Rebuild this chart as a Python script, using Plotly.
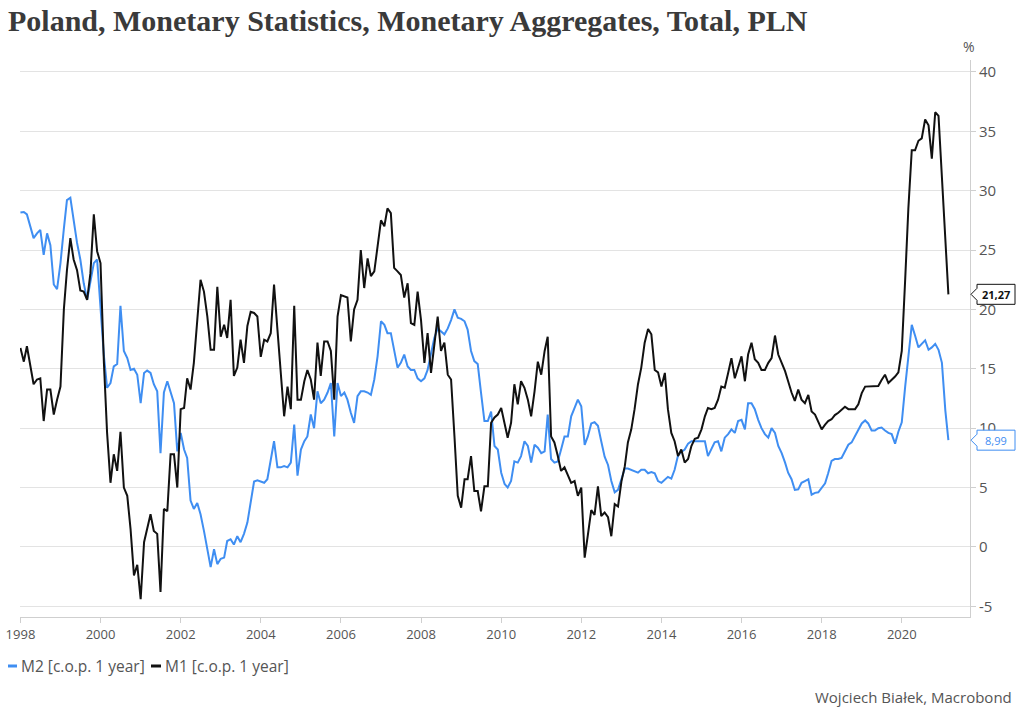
import pandas as pd
import plotly.graph_objects as go

# ---------------- data (monthly, Jan 1998 onward, % y/y) ----------------
m1_values = [
    16.75, 15.6, 16.9, 15.35, 13.7, 14.1, 14.2, 10.6, 13.25, 13.25, 11.15, 12.4,
    13.5, 20.0, 23.3, 26.0, 24.2, 23.3, 21.6, 21.5, 20.8, 23.05, 28.0, 24.9,
    23.9, 15.5, 9.6, 5.4, 7.8, 6.4, 9.7, 5.0,
    4.3, 1.5, -2.4, -1.5, -4.4, 0.4, 1.5, 2.75, 1.35, 1.1, -3.8, 3.2, 3.0, 7.8, 7.8, 5.0,
    11.6, 11.7, 14.2, 13.25, 15.5, 19.1, 22.5, 21.5, 19.4, 16.6, 16.6, 21.9, 17.7, 18.7,
    17.6, 20.8, 14.4, 15.1, 17.45, 15.5, 18.6, 19.8,
    19.7, 19.4, 16.0, 17.45, 17.3, 18.0, 22.1, 18.3, 14.4, 11.0, 13.5, 11.6, 20.3, 12.4,
    12.4, 13.95, 14.9, 14.1, 12.4, 17.2, 14.4, 17.3, 17.3, 16.5, 12.4, 19.4, 21.2, 21.1,
    21.0, 17.3, 20.0,
    20.8, 25.0, 21.8, 24.3, 22.8, 23.2, 25.3, 27.5, 27.0, 28.5, 28.1, 23.5, 23.2, 22.9,
    21.0, 22.2, 18.85, 18.7, 21.5, 19.1, 15.5, 18.0, 14.65, 17.2, 19.4, 16.5, 17.2, 14.5,
    14.1, 9.3, 4.3, 3.3, 5.7, 5.7,
    7.65, 4.7, 4.7, 3.0, 5.1, 5.1, 10.45, 10.9, 11.15, 11.7, 10.45, 9.2, 10.45, 13.7,
    12.0, 13.95, 13.4, 12.4, 11.0, 13.1, 15.6, 14.5, 16.5, 17.7, 9.3, 8.8, 7.65, 6.4,
    6.7, 6.0, 5.4, 5.55, 4.3, 5.0,
    -0.9,
    1.0, 3.1, 2.7, 5.1, 2.6, 2.9, 2.5, 0.9, 3.6, 3.4, 5.5, 6.8, 8.8, 9.9, 11.6, 13.7,
    15.1, 17.2, 18.35, 17.9, 14.9, 14.7, 13.5, 14.65, 11.6, 9.6, 8.9, 7.65, 8.2, 7.1,
    7.4, 8.5, 9.1, 9.2,
    9.9, 11.0, 11.7, 11.6, 11.7, 12.4, 13.5, 13.4, 14.65, 15.9, 14.2, 15.2, 16.05, 13.95,
    16.2, 17.2, 15.8, 15.5, 14.9, 14.9, 15.5, 15.9, 17.8, 16.2, 15.5, 14.8, 13.95, 13.0,
    12.3, 13.25, 12.4, 12.1, 12.8, 11.4, 11.15,
    10.55, 9.9, 10.3, 10.6, 10.75, 11.1, 11.3, 11.55, 11.8, 11.6, 11.6, 11.6, 12.0, 12.95,
    13.5, 13.5, 13.5, 13.5, 13.55, 14.05, 14.5, 13.8, 14.05, 14.35, 14.7,
    16.5, 22.5, 28.5, 33.4, 33.4, 34.2, 34.4, 36.0, 35.5, 32.7, 36.6, 36.3, 31.3, 26.3, 21.27,
]

m2_values = [
    28.15, 28.2, 28.0, 27.0, 26.0, 26.4, 26.7, 24.6, 26.4, 25.4, 22.1, 21.7,
    23.9, 26.8, 29.2, 29.4, 27.5, 25.6, 24.2, 22.2, 20.8, 22.2, 23.9, 24.2,
    19.7, 16.1, 13.4, 13.8, 15.2, 15.4, 20.3, 16.5,
    15.9, 14.9, 15.0, 14.5, 12.1, 14.65, 14.85, 14.65, 13.7, 13.1, 7.9, 13.0, 13.95, 13.1,
    12.1, 8.05, 9.6, 8.2, 7.5, 3.9, 3.2, 3.7, 2.75, 1.35, -0.2, -1.7, -0.2, -1.45, -1.0,
    -0.9, 0.5, 0.65, 0.2, 0.9, 0.4, 1.1, 2.05, 3.7,
    5.5, 5.6, 5.5, 5.4, 5.7, 7.4, 8.9, 6.7, 6.7, 6.8, 6.7, 7.1, 10.3, 6.0, 8.2, 8.9,
    9.3, 11.15, 10.0, 13.1, 12.1, 12.4, 13.0, 13.8, 9.3, 13.8, 12.7, 13.0, 12.4, 11.3, 10.45,
    12.7, 13.1, 13.1, 13.0, 12.8, 14.1, 16.05, 19.0, 18.7, 18.0, 18.0, 16.6, 15.1, 15.5,
    16.2, 15.2, 14.9, 14.9, 14.2, 13.95, 14.2, 14.9, 16.2, 17.6, 18.4, 18.15, 17.9, 18.4,
    19.1, 20.0, 19.3, 19.2, 19.0, 18.3,
    16.5, 15.65, 15.4, 13.0, 10.6, 10.6, 11.4, 8.5, 8.2, 6.25, 5.3, 5.0, 5.55, 7.2, 7.1,
    7.65, 8.9, 8.5, 7.1, 8.6, 8.35, 7.9, 8.05, 11.15, 7.4, 7.1, 7.2, 8.2, 9.3, 9.3, 11.0,
    11.7, 12.4, 11.85,
    8.6,
    9.3, 10.4, 10.5, 10.2, 8.9, 7.6, 6.9, 5.55, 4.6, 4.8, 5.7, 6.6, 6.6, 6.5, 6.4, 6.25,
    6.5, 6.5, 6.2, 6.3, 6.2, 5.55, 5.4, 5.7, 5.9, 5.75, 6.5, 7.7, 8.0, 8.2, 8.7, 8.9, 8.9, 8.9,
    8.9, 8.9, 7.65, 8.2, 8.8, 8.9, 8.05, 9.2, 9.5, 9.9, 9.6, 10.6, 10.7, 9.9, 12.1, 12.1,
    11.6, 10.7, 10.0, 9.5, 9.2, 10.0, 9.6, 8.5, 7.9, 7.1, 6.25, 5.7, 4.8, 4.85, 5.4, 5.55,
    5.7, 4.4, 4.55,
    4.6, 5.0, 5.35, 6.2, 7.25, 7.4, 7.4, 7.5, 8.1, 8.6, 8.8, 9.3, 9.9, 10.4, 10.65, 10.4,
    9.8, 9.8, 10.0, 10.05, 9.8, 9.6, 9.5, 8.7, 9.7,
    10.5, 13.5, 16.2, 18.7, 17.8, 16.8, 17.1, 17.4, 16.6, 16.8, 17.1, 16.6, 15.5, 11.5, 8.99,
]

series_names = ["M2 [c.o.p. 1 year]", "M1 [c.o.p. 1 year]"]
tick_years = list(range(1998, 2021, 2))
y_ticks = [-5, 0, 5, 10, 15, 20, 25, 30, 35, 40]

dates = pd.date_range("1998-01-01", periods=len(m1_values), freq="MS")
dates2 = pd.date_range("1998-01-01", periods=len(m2_values), freq="MS")

# ---------------- styling ----------------
BLUE = "#3f8ef2"
BLACK = "#111111"
GRAY = "#555555"
FONT = "Open Sans"

W, H = 1024, 717
L, R, T, B = 20, 54, 60, 100
PW, PH = W - L - R, H - T - B
YMIN, YMAX = -5.9, 41.0

fig = go.Figure()
fig.add_trace(go.Scatter(x=dates2, y=m2_values, mode="lines", name=series_names[0],
                         line=dict(color=BLUE, width=2)))
fig.add_trace(go.Scatter(x=dates, y=m1_values, mode="lines", name=series_names[1],
                         line=dict(color=BLACK, width=2)))


def px_x(px):
    return (px - L) / PW


def val_y(v):
    return (v - YMIN) / (YMAX - YMIN)


def py_off(dpx):
    return dpx / PH


shapes = []
annotations = []

# end-value callouts
for vals, col, bold in [(m1_values, BLACK, True), (m2_values, BLUE, False)]:
    v = vals[-1]
    yc = val_y(v)
    x_tip, x_l, x_r = px_x(971), px_x(977), px_x(1015)
    top, bot = yc + py_off(10), yc - py_off(10)
    path = (f"M {x_tip} {yc} L {x_l} {yc + py_off(6)} L {x_l} {top} L {x_r} {top} "
            f"L {x_r} {bot} L {x_l} {bot} L {x_l} {yc - py_off(6)} Z")
    shapes.append(dict(type="path", xref="paper", yref="paper", path=path,
                       fillcolor="white", line=dict(color=col, width=1), layer="above"))
    txt = f"{v:.2f}".replace(".", ",")
    annotations.append(dict(xref="paper", yref="paper", x=px_x(996), y=yc,
                            text=f"<b>{txt}</b>" if bold else txt, showarrow=False,
                            font=dict(family=FONT, size=11, color=col),
                            xanchor="center", yanchor="middle"))

# custom legend
leg_y = 1 - (666 - T) / PH
for (x0, x1, tx), col, name in [((8, 17, 19), BLUE, series_names[0]),
                               ((151, 161, 163), BLACK, series_names[1])]:
    shapes.append(dict(type="line", xref="paper", yref="paper",
                       x0=px_x(x0), x1=px_x(x1), y0=leg_y, y1=leg_y,
                       line=dict(color=col, width=3)))
    annotations.append(dict(xref="paper", yref="paper", x=px_x(tx), y=leg_y, text=name,
                            showarrow=False, xanchor="left", yanchor="middle",
                            font=dict(family=FONT, size=15.5, color=GRAY)))

# percent label
annotations.append(dict(xref="paper", yref="paper", x=px_x(969), y=1 + (T - 47) / PH,
                        text="%", showarrow=False, xanchor="center", yanchor="middle",
                        font=dict(family=FONT, size=14, color=GRAY)))
# footer
annotations.append(dict(xref="paper", yref="paper", x=px_x(1014), y=1 - (697 - T) / PH,
                        text="Wojciech Białek, Macrobond", showarrow=False,
                        xanchor="right", yanchor="middle",
                        font=dict(family=FONT, size=15, color=GRAY)))

fig.update_layout(
    width=W, height=H,
    margin=dict(l=L, r=R, t=T, b=B, autoexpand=False),
    paper_bgcolor="white", plot_bgcolor="white",
    showlegend=False,
    title=dict(text="<b>Poland, Monetary Statistics, Monetary Aggregates, Total, PLN</b>",
               x=8 / W, xanchor="left", y=1 - 20 / H, yanchor="middle",
               font=dict(family="Liberation Serif", size=30, color="#3a3a3a")),
    xaxis=dict(type="date", range=["1997-12-28", "2021-09-14"], automargin=False,
               tickvals=[f"{y}-01-01" for y in tick_years],
               ticktext=[str(y) for y in tick_years],
               showgrid=False, zeroline=False,
               showline=True, linecolor="#cfcfcf", linewidth=1,
               ticks="outside", ticklen=5, tickcolor="#cfcfcf",
               tickfont=dict(family=FONT, size=13, color=GRAY)),
    yaxis=dict(side="right", range=[YMIN, YMAX], automargin=False,
               tickvals=y_ticks, ticktext=[str(v) for v in y_ticks],
               showgrid=True, gridcolor="#e3e3e3", gridwidth=1, zeroline=False,
               showline=True, linecolor="#cfcfcf", linewidth=1,
               ticks="outside", ticklen=5, tickcolor="#cfcfcf",
               tickfont=dict(family=FONT, size=15, color=GRAY)),
    shapes=shapes,
    annotations=annotations,
)

fig.write_html("out.html",
               config={"displayModeBar": False},
               post_script="document.body.style.margin='0';document.body.style.overflow='hidden';")
